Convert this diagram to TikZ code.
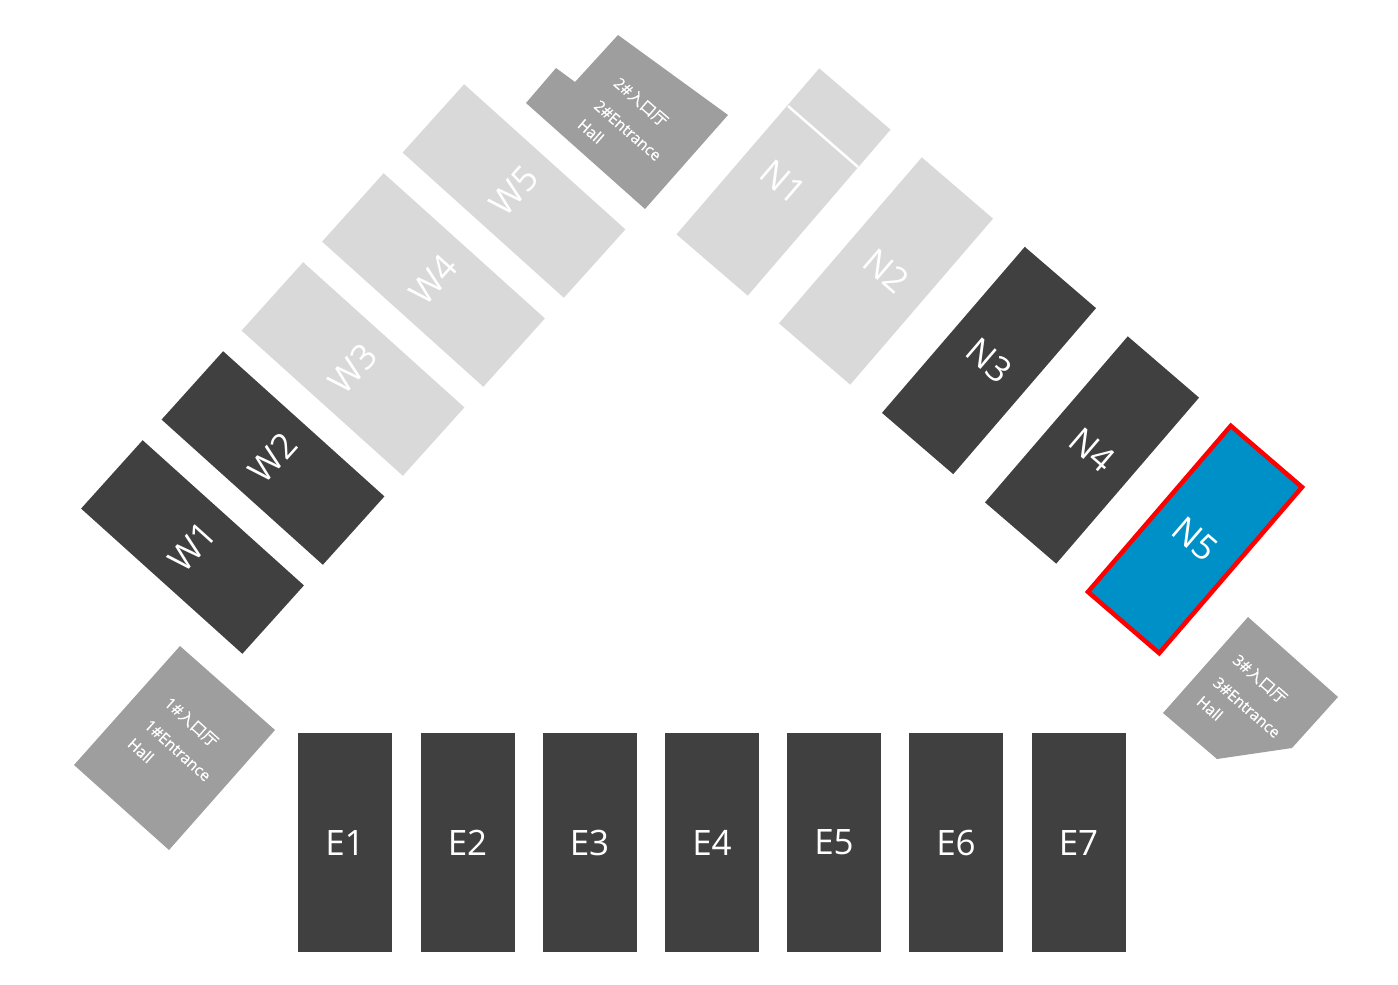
\documentclass[tikz,border=0pt]{standalone}
\usepackage{fontspec}
\setmainfont{Open Sans}
\newfontfamily\labfont{Open Sans}[FakeBold=0.7]
\newfontfamily\cjkfont{Noto Sans CJK SC}[FakeBold=0.4]
\usetikzlibrary{positioning}
\definecolor{halldark}{RGB}{64,64,64}
\definecolor{halllight}{RGB}{217,217,217}
\definecolor{hallgrey}{RGB}{158,158,158}
\definecolor{hallblue}{RGB}{0,144,200}
\tikzset{
  % basic exhibition hall
  hallbox/.style={
    minimum width=94pt,
    minimum height=219pt,
    inner sep=0pt,
    text=white,
    font=\fontsize{35}{35}\selectfont
  },
  % closed and open halls
  closedhall/.style={hallbox, fill=halldark},
  openhall/.style={hallbox, fill=halllight},
  % selected hall
  activehall/.style={hallbox, fill=hallblue, draw=red, line width=4.5pt},
  % entrance halls
  entrance/.style={fill=hallgrey},
  entrancelab/.style={
    align=left,
    inner sep=0pt,
    text=white,
    font=\fontsize{15.5}{25}\selectfont\labfont
  },
}
\begin{document}
\begin{tikzpicture}[x=1pt,y=-1pt]
  \useasboundingbox (0,0) rectangle (1398,985);

  % East row
  \foreach \i/\x in {1/345,2/467.5,3/589.5,4/712,5/834,6/956,7/1078.5} {
    \node[closedhall] (E\i) at (\x,842.5) {E\i};
  }

  % West row
  \foreach \i/\x/\y/\s in {1/192.5/547/closedhall, 2/273/458/closedhall, 3/353/369/openhall, 4/433.5/280/openhall, 5/514/191/openhall} {
    \node[\s, rotate=48, minimum width=92pt, minimum height=217pt] (W\i) at (\x,\y) {W\i};
  }

  % North row
  \foreach \i/\x/\y/\s in {1/783.5/182/openhall, 2/886/271/openhall, 3/989/360.5/closedhall, 4/1092/450/closedhall} {
    \node[\s, rotate=-40.7] (N\i) at (\x,\y) {N\i};
  }
  \node[activehall, rotate=-40.7] (N5) at (1195,539.5) {N5};

  % Cut across N1
  \coordinate (cutA) at (788,106);
  \coordinate (cutB) at (858,167);
  \draw[white, line width=2.5pt] (cutA) -- (cutB);

  % Entrance halls
  \fill[entrance] (180,646) -- (275,730) -- (169,850) -- (74,765) -- cycle;
  \fill[entrance] (618,35) -- (728,115) -- (645,209) -- (526,103) -- (556,68) -- (575,82) -- cycle;
  \fill[entrance] (1248,617) -- (1338,697) -- (1292,748) -- (1217,759) -- (1163,713) -- cycle;

  \node[entrancelab, rotate=-42] (lab1) at (180,748) {1\#{\cjkfont 入口厅}\\[5pt]1\#Entrance\\Hall};
  \node[entrancelab, rotate=-41] (lab2) at (630,128) {2\#{\cjkfont 入口厅}\\[5pt]2\#Entrance\\Hall};
  \node[entrancelab, rotate=-41] (lab3) at (1249,705) {3\#{\cjkfont 入口厅}\\[5pt]3\#Entrance\\Hall};
\end{tikzpicture}
\end{document}
